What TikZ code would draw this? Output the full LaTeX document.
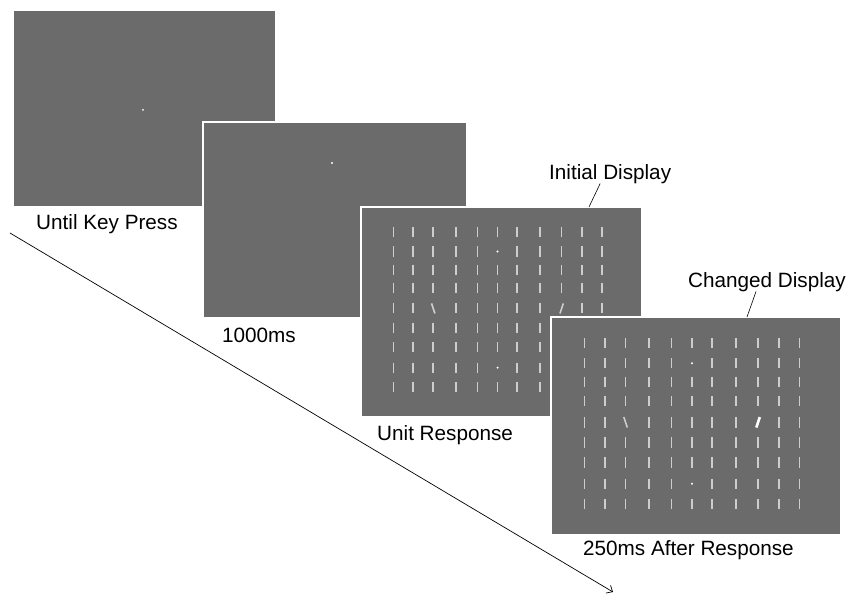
\documentclass[tikz,border=0pt]{standalone}
\usepackage{fontspec}
\setmainfont{Liberation Sans}
\usepackage{xcolor}
\usepackage{tikz}
\usetikzlibrary{arrows.meta}

\definecolor{scrgray}{HTML}{6B6B6B}
\definecolor{bargray}{HTML}{CDCDCD}

% bar array of one display: #1 panel, #2 width, #3 height, #4 style of the right odd bar
\newcommand{\stimgrid}[4]{%
  \begin{scope}[shift={(#1.north west)}, x=#2pt, y=-#3pt]
    \foreach \c [count=\i] in {0.115,0.186,0.257,0.338,0.415,0.486,0.556,0.637,0.714,0.786,0.857} {
      \foreach \r [count=\j] in {0.12,0.212,0.298,0.386,0.483,0.575,0.668,0.765,0.859} {
        \pgfmathtruncatemacro{\gap}{and(\i==6,or(\j==2,\j==8)) + and(\j==5,or(\i==3,\i==9))}
        \ifnum\gap=0 \draw[bar] (\c,\r-0.024) -- (\c,\r+0.024); \fi
      }
    }
    \fill[white] (0.486,0.212) circle[radius=1.1pt];
    \fill[white] (0.486,0.765) circle[radius=1.1pt];
    \draw[bar] (0.257-0.006,0.483-0.024) -- (0.257+0.006,0.483+0.024);
    \draw[#4] (0.714+0.006,0.483-0.024) -- (0.714-0.006,0.483+0.024);
  \end{scope}}

\begin{document}
\begin{tikzpicture}[
      x=1pt, y=-1pt,
      font=\fontsize{20.7}{24}\selectfont,
      screen/.style={draw=white, line width=1.2pt, fill=scrgray, inner sep=0pt,
                     outer sep=0pt, anchor=north west},
      lbl/.style={anchor=base west, inner sep=1pt},
      bar/.style={draw=bargray, line width=1.6pt},
      lead/.style={line width=0.6pt, black},
      timeax/.style={-{Straight Barb[length=5pt,width=9pt]}, line width=0.7pt},
    ]
    \useasboundingbox (0,0) rectangle (852,596);

    % time axis
    \coordinate (tstart) at (10,233);
    \coordinate (tend) at (613,592);
    \draw[timeax] (tstart) -- (tend);

    % displays
    \node[screen, minimum width=263pt, minimum height=197pt] (p1) at (13,10) {};
    \fill[white] (143,110) circle[radius=1pt];
    \node[screen, minimum width=264pt, minimum height=196pt] (p2) at (203,122) {};
    \fill[white] (332,163) circle[radius=1.1pt];
    \node[screen, minimum width=281pt, minimum height=210pt] (p3) at (361,207) {};
    \stimgrid{p3}{281}{210}{bar}
    \node[screen, minimum width=290pt, minimum height=218pt] (p4) at (551,317) {};
    \stimgrid{p4}{290}{218}{bar, draw=white, line width=2.6pt}

    % labels
    \node[lbl] (lkey) at (35,230) {Until Key Press};
    \node[lbl] (l1000) at (221,342) {1000ms};
    \node[lbl] (lunit) at (376,440) {Unit Response};
    \node[lbl] (l250) at (582,555) {250ms After Response};
    \node[lbl] (linit) at (548,180) {Initial Display};
    \node[lbl] (lchg) at (687,288) {Changed Display};

    % leaders
    \draw[lead] ([xshift=-10pt,yshift=2pt]linit.south) -- ([xshift=228pt]p3.north west);
    \draw[lead] ([xshift=-11pt,yshift=2pt]lchg.south) -- ([xshift=196pt]p4.north west);
  \end{tikzpicture}
\end{document}
